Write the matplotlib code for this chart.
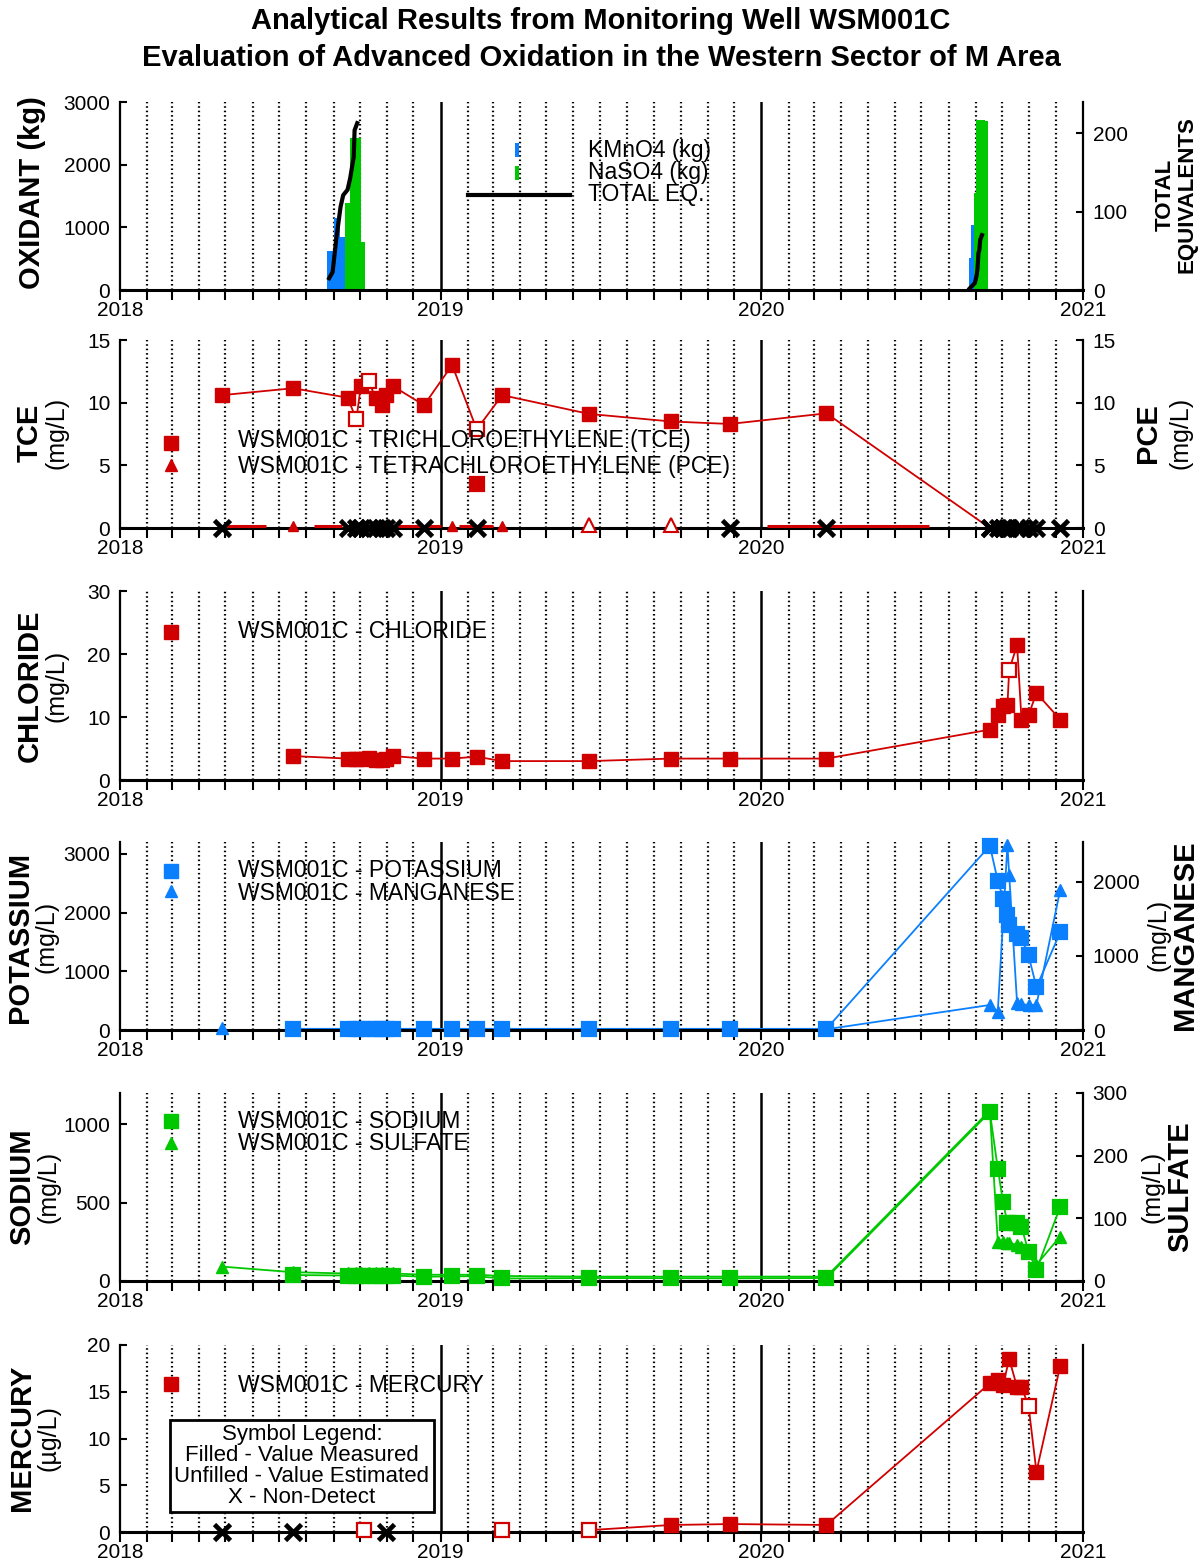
import numpy as np
import matplotlib
matplotlib.use('Agg')
import matplotlib.pyplot as plt
from matplotlib.patches import Rectangle
from matplotlib.lines import Line2D

plt.rcParams['font.family'] = ['Liberation Sans', 'DejaVu Sans']

RED = '#D00000'
BLUE = '#0A80FF'
GREEN = '#00C800'

# ---------------- DATA ----------------
# Panel 1: oxidant injections (step bars) and cumulative total equivalents
kmno4_dates = ['2018-08-25', '2018-09-02', '2018-09-08', '2018-09-14',
               '2020-08-24', '2020-08-27', '2020-08-30']
kmno4_kg = [620, 1150, 850, 0, 510, 1040, 0]
naso4_dates = ['2018-09-14', '2018-09-20', '2018-10-02', '2018-10-07',
               '2020-08-30', '2020-09-01', '2020-09-11', '2020-09-15']
naso4_kg = [1390, 2430, 770, 0, 1540, 2720, 2700, 0]
toteq1_dates = ['2018-08-27', '2018-08-31', '2018-09-04', '2018-09-09', '2018-09-12',
                '2018-09-17', '2018-09-20', '2018-09-24', '2018-09-25', '2018-09-28']
toteq1_vals = [15, 23, 64, 106, 121, 128, 143, 170, 204, 213]
toteq2_dates = ['2020-08-25', '2020-08-31', '2020-09-02', '2020-09-03', '2020-09-04',
                '2020-09-05', '2020-09-06', '2020-09-08']
toteq2_vals = [2, 9, 19, 28, 47, 51, 64, 70]

# Panel 2: TCE / PCE
tce_dates = ['2018-04-27', '2018-07-17', '2018-09-17', '2018-09-27', '2018-10-02', '2018-10-11',
             '2018-10-19', '2018-10-26', '2018-10-31', '2018-11-08', '2018-12-13', '2019-01-14',
             '2019-02-11', '2019-03-12', '2019-06-19', '2019-09-20', '2019-11-26', '2020-03-15',
             '2020-09-17']
tce_vals = [10.6, 11.15, 10.4, 8.67, 11.3, 11.75, 10.35, 9.8, 10.6, 11.3, 9.8, 13.0,
            7.87, 10.6, 9.1, 8.5, 8.3, 9.15, 0.0]
tce_flags = ['M', 'M', 'M', 'E', 'M', 'E', 'M', 'M', 'M', 'M', 'M', 'M',
             'E', 'M', 'M', 'M', 'M', 'M', 'ND']
tce_extra_dates = ['2019-02-11']
tce_extra_vals = [3.5]
nd_dates = ['2018-04-27', '2018-09-17', '2018-09-27', '2018-10-02', '2018-10-11', '2018-10-19',
            '2018-10-26', '2018-10-31', '2018-11-08', '2018-12-13', '2019-02-11', '2019-11-26',
            '2020-03-15', '2020-09-17', '2020-09-26', '2020-10-02', '2020-10-07', '2020-10-09',
            '2020-10-18', '2020-10-23', '2020-10-31', '2020-11-09', '2020-12-06']
pce_dates = ['2018-07-17', '2019-01-14', '2019-03-12', '2019-06-19', '2019-09-20']
pce_vals = [0.15, 0.15, 0.15, 0.25, 0.25]
pce_flags = ['M', 'M', 'M', 'E', 'E']
pce_trace_start = ['2018-05-02', '2018-08-10', '2018-11-13', '2019-01-22', '2020-01-07']
pce_trace_end = ['2018-06-16', '2018-09-11', '2019-01-01', '2019-03-01', '2020-07-10']

# Panel 3: chloride
cl_dates = ['2018-07-17', '2018-09-17', '2018-09-27', '2018-10-02', '2018-10-11', '2018-10-19',
            '2018-10-26', '2018-10-31', '2018-11-08', '2018-12-13', '2019-01-14', '2019-02-11',
            '2019-03-12', '2019-06-19', '2019-09-20', '2019-11-26', '2020-03-15', '2020-09-17',
            '2020-09-26', '2020-10-02', '2020-10-07', '2020-10-09', '2020-10-18', '2020-10-23',
            '2020-10-31', '2020-11-09', '2020-12-06']
cl_vals = [3.8, 3.4, 3.3, 3.4, 3.5, 3.2, 3.1, 3.4, 3.8, 3.4, 3.4, 3.7, 3.0, 3.0, 3.4, 3.4, 3.4,
           8.0, 10.3, 11.7, 11.9, 17.5, 21.4, 9.6, 10.3, 13.8, 9.6]
cl_flags = ['M'] * 21 + ['E'] + ['M'] * 5

# Panel 4: potassium / manganese
k_dates = ['2018-07-17', '2018-09-17', '2018-09-27', '2018-10-02', '2018-10-11', '2018-10-19',
           '2018-10-26', '2018-10-31', '2018-11-08', '2018-12-13', '2019-01-14', '2019-02-11',
           '2019-03-12', '2019-06-19', '2019-09-20', '2019-11-26', '2020-03-15', '2020-09-17',
           '2020-09-26', '2020-10-02', '2020-10-07', '2020-10-09', '2020-10-18', '2020-10-23',
           '2020-10-31', '2020-11-09', '2020-12-06']
k_vals = [20, 20, 20, 20, 20, 20, 20, 20, 20, 20, 20, 20, 20, 20, 20, 20, 20,
          3136, 2542, 2237, 1949, 1780, 1627, 1559, 1271, 729, 1661]
mn_dates = ['2018-04-27', '2020-03-15', '2020-09-17', '2020-09-26', '2020-10-07', '2020-10-09',
            '2020-10-18', '2020-10-23', '2020-10-31', '2020-11-09', '2020-12-06']
mn_vals = [30, 10, 338, 247, 2500, 2095, 360, 345, 340, 338, 1892]
mn_line_start = '2020-03-15'

# Panel 5: sodium / sulfate
na_dates = k_dates
na_vals = [38, 35, 35, 35, 35, 35, 35, 35, 35, 27, 30, 30, 16, 19, 18, 17, 19,
           1078, 718, 505, 369, 369, 369, 346, 187, 70, 473]
so4_dates = ['2018-04-27'] + k_dates
so4_vals = [23, 14, 12, 12, 12, 12, 12, 12, 12, 12, 10, 10, 10, 8, 7, 7, 7, 7,
            272, 63, 63, 60, 60, 58, 55, 50, 26, 71]

# Panel 6: mercury
hg_dates = ['2018-04-27', '2018-07-17', '2018-10-06', '2018-10-31', '2019-03-12', '2019-06-19',
            '2019-09-20', '2019-11-26', '2020-03-15', '2020-09-17', '2020-09-26', '2020-10-02',
            '2020-10-09', '2020-10-18', '2020-10-23', '2020-10-31', '2020-11-09', '2020-12-06']
hg_vals = [0, 0, 0.2, 0, 0.2, 0.2, 0.75, 0.85, 0.75, 15.9, 16.3, 15.7, 18.5, 15.5, 15.5,
           13.5, 6.45, 17.75]
hg_flags = ['ND', 'ND', 'E', 'ND', 'E', 'E', 'M', 'M', 'M', 'M', 'M', 'M', 'M', 'M', 'M',
            'E', 'M', 'M']
hg_line_start = '2019-06-19'

# ---------------- LAYOUT ----------------
W, H = 1203, 1562
fig = plt.figure(figsize=(W / 100, H / 100), dpi=100)


def fx(x):
    return x / W


def fy(y):
    return 1 - y / H


def D(lst):
    return np.array(lst, dtype='datetime64[D]')


X0, X1 = 120, 1083
panels = [(102, 290), (340, 528), (591, 780), (842, 1030), (1093, 1281), (1345, 1532)]
months = np.arange('2018-01', '2021-02', dtype='datetime64[M]').astype('datetime64[D]')
month_nums = [int(str(m)[5:7]) for m in months]
XMS, XMEW = 11, 3.4
TICKFS = 15


def make_ax(top, bot, ylim, yticks):
    ax = fig.add_axes([fx(X0), fy(bot), fx(X1) - fx(X0), (bot - top) / H])
    ax.set_xlim(np.datetime64('2018-01-01'), np.datetime64('2021-01-01'))
    ax.set_ylim(*ylim)
    ax.set_yticks(yticks)
    ax.spines['top'].set_visible(False)
    ax.spines['left'].set_linewidth(1.6)
    ax.spines['right'].set_linewidth(1.6)
    ax.spines['bottom'].set_linewidth(2.2)
    ax.set_xticks(months)
    ax.set_xticklabels([str(m)[:4] if mn == 1 else '' for m, mn in zip(months, month_nums)])
    ax.tick_params(axis='x', direction='out', length=7, width=1.5, labelsize=TICKFS, pad=1)
    ax.tick_params(axis='y', direction='in', length=5, width=1.5, labelsize=TICKFS, pad=7)
    for m, mn in zip(months, month_nums):
        if mn != 1:
            ax.axvline(m, color='black', ls=(0, (0.7, 1.3)), lw=1.6, zorder=0.5)
    for yr in ['2019-01-01', '2020-01-01']:
        ax.axvline(np.datetime64(yr), color='black', lw=1.8, zorder=0.6)
    return ax


def make_twin(ax, ylim, yticks):
    tw = ax.twinx()
    tw.set_ylim(*ylim)
    tw.set_yticks(yticks)
    for s in tw.spines.values():
        s.set_visible(False)
    tw.tick_params(axis='y', direction='in', length=5, width=1.5, labelsize=TICKFS, pad=7)
    return tw


def line(ax, dates, vals, color):
    ax.plot(D(dates), vals, color=color, lw=1.3, zorder=2.2)


def markers(ax, dates, vals, color, marker='s', ms=10, filled=True):
    ax.plot(D(dates), vals, ls='none', marker=marker, ms=ms, mfc=color if filled else 'white',
            mec=color, mew=1.6, zorder=4, clip_on=False)


def flagged(ax, dates, vals, flags, color, marker='s', ms=10):
    d = D(dates)
    v = np.array(vals, dtype=float)
    f = np.array(flags)
    m = f == 'M'
    ax.plot(d[m], v[m], ls='none', marker=marker, ms=ms, mfc=color, mec=color, zorder=4,
            clip_on=False)
    e = f == 'E'
    ax.plot(d[e], v[e], ls='none', marker=marker, ms=ms, mfc='white', mec=color, mew=1.6,
            zorder=4, clip_on=False)
    n = f == 'ND'
    ax.plot(d[n], v[n], ls='none', marker='x', ms=XMS, mec='black', mew=XMEW, zorder=5,
            clip_on=False)


def legend_entry(x, y, marker, color, ms=10):
    fig.add_artist(Line2D([fx(x)], [fy(y)], transform=fig.transFigure, marker=marker, ms=ms,
                          mfc=color, mec=color, ls='none'))


def ftext(x, y, s, **kw):
    fig.text(fx(x), fy(y), s, **kw)


LEGFS = 16.5

# Title
ftext(601, 21, 'Analytical Results from Monitoring Well WSM001C', ha='center', va='center',
      fontsize=21, fontweight='bold')
ftext(601, 58, 'Evaluation of Advanced Oxidation in the Western Sector of M Area', ha='center',
      va='center', fontsize=21, fontweight='bold')

# ---- Panel 1 ----
ax1 = make_ax(*panels[0], (0, 3000), [0, 1000, 2000, 3000])
ax1.fill_between(D(kmno4_dates), kmno4_kg, step='post', color=BLUE, lw=0, zorder=2)
ax1.fill_between(D(naso4_dates), naso4_kg, step='post', color=GREEN, lw=0, zorder=2)
tw1 = make_twin(ax1, (0, 240), [0, 100, 200])
tw1.plot(D(toteq1_dates), toteq1_vals, color='black', lw=3, zorder=3)
tw1.plot(D(toteq2_dates), toteq2_vals, color='black', lw=3, zorder=3)
fig.add_artist(Rectangle((fx(515), fy(157)), 4 / W, 14 / H, transform=fig.transFigure,
                         color=BLUE, lw=0))
fig.add_artist(Rectangle((fx(515), fy(180)), 4 / W, 14 / H, transform=fig.transFigure,
                         color=GREEN, lw=0))
fig.add_artist(Line2D([fx(468), fx(570)], [fy(195), fy(195)], transform=fig.transFigure,
                      color='black', lw=3))
ftext(588, 151, 'KMnO4 (kg)', fontsize=LEGFS, va='center')
ftext(588, 173, 'NaSO4 (kg)', fontsize=LEGFS, va='center')
ftext(588, 195, 'TOTAL EQ.', fontsize=LEGFS, va='center')
ftext(32, 193, 'OXIDANT (kg)', rotation=90, ha='center', va='center', fontsize=21,
      fontweight='bold')
ftext(1165, 195, 'TOTAL', rotation=90, ha='center', va='center', fontsize=16, fontweight='bold')
ftext(1187, 195, 'EQUIVALENTS', rotation=90, ha='center', va='center', fontsize=16,
      fontweight='bold')

# ---- Panel 2 ----
ax2 = make_ax(*panels[1], (0, 15), [0, 5, 10, 15])
tw2 = make_twin(ax2, (0, 15), [0, 5, 10, 15])
line(ax2, tce_dates, tce_vals, RED)
flagged(ax2, tce_dates, tce_vals, tce_flags, RED)
markers(ax2, tce_extra_dates, tce_extra_vals, RED)
ax2.hlines([0.12] * len(pce_trace_start), D(pce_trace_start), D(pce_trace_end), color=RED,
           lw=2.2, zorder=3)
pd_ = D(pce_dates)
pv = np.array(pce_vals)
pf = np.array(pce_flags)
ax2.plot(pd_[pf == 'M'], pv[pf == 'M'], ls='none', marker='^', ms=7, color=RED, zorder=4,
         clip_on=False)
ax2.plot(pd_[pf == 'E'], pv[pf == 'E'], ls='none', marker='^', ms=10, mfc='white', mec=RED,
         mew=1.5, zorder=4, clip_on=False)
ax2.plot(D(nd_dates), [0] * len(nd_dates), ls='none', marker='x', ms=XMS, mec='black', mew=XMEW,
         zorder=5, clip_on=False)
legend_entry(171, 443, 's', RED)
legend_entry(171, 465, '^', RED, ms=8)
ftext(238, 441, 'WSM001C - TRICHLOROETHYLENE (TCE)', fontsize=LEGFS, va='center')
ftext(238, 466, 'WSM001C - TETRACHLOROETHYLENE (PCE)', fontsize=LEGFS, va='center')
ftext(30, 433, 'TCE', rotation=90, ha='center', va='center', fontsize=21, fontweight='bold')
ftext(56, 433, '(mg/L)', rotation=90, ha='center', va='center', fontsize=18)
ftext(1148, 433, 'PCE', rotation=90, ha='center', va='center', fontsize=21, fontweight='bold')
ftext(1181, 433, '(mg/L)', rotation=90, ha='center', va='center', fontsize=18)

# ---- Panel 3 ----
ax3 = make_ax(*panels[2], (0, 30), [0, 10, 20, 30])
line(ax3, cl_dates, cl_vals, RED)
flagged(ax3, cl_dates, cl_vals, cl_flags, RED)
legend_entry(171, 632, 's', RED)
ftext(238, 632, 'WSM001C - CHLORIDE', fontsize=LEGFS, va='center')
ftext(30, 686, 'CHLORIDE', rotation=90, ha='center', va='center', fontsize=21, fontweight='bold')
ftext(56, 686, '(mg/L)', rotation=90, ha='center', va='center', fontsize=18)

# ---- Panel 4 ----
ax4 = make_ax(*panels[3], (0, 3200), [0, 1000, 2000, 3000])
tw4 = make_twin(ax4, (0, 2540), [0, 1000, 2000])
line(ax4, k_dates, k_vals, BLUE)
markers(ax4, k_dates, k_vals, BLUE)
mnd = D(mn_dates)
mnv = np.array(mn_vals)
msel = mnd >= np.datetime64(mn_line_start)
tw4.plot(mnd[msel], mnv[msel], color=BLUE, lw=1.3, zorder=2.2)
tw4.plot(mnd, mnv, ls='none', marker='^', ms=9, color=BLUE, zorder=4, clip_on=False)
legend_entry(171, 871, 's', BLUE)
legend_entry(171, 891, '^', BLUE, ms=8)
ftext(238, 871, 'WSM001C - POTASSIUM', fontsize=LEGFS, va='center')
ftext(238, 893, 'WSM001C - MANGANESE', fontsize=LEGFS, va='center')
ftext(20, 937, 'POTASSIUM', rotation=90, ha='center', va='center', fontsize=21, fontweight='bold')
ftext(46, 937, '(mg/L)', rotation=90, ha='center', va='center', fontsize=18)
ftext(1185, 935, 'MANGANESE', rotation=90, ha='center', va='center', fontsize=21,
      fontweight='bold')
ftext(1158, 935, '(mg/L)', rotation=90, ha='center', va='center', fontsize=18)

# ---- Panel 5 ----
ax5 = make_ax(*panels[4], (0, 1200), [0, 500, 1000])
tw5 = make_twin(ax5, (0, 300), [0, 100, 200, 300])
line(ax5, na_dates, na_vals, GREEN)
markers(ax5, na_dates, na_vals, GREEN)
tw5.plot(D(so4_dates), so4_vals, color=GREEN, lw=1.3, zorder=2.2)
tw5.plot(D(so4_dates), so4_vals, ls='none', marker='^', ms=9, color=GREEN, zorder=4,
         clip_on=False)
legend_entry(171, 1121, 's', GREEN)
legend_entry(171, 1143, '^', GREEN, ms=8)
ftext(238, 1122, 'WSM001C - SODIUM', fontsize=LEGFS, va='center')
ftext(238, 1144, 'WSM001C - SULFATE', fontsize=LEGFS, va='center')
ftext(22, 1187, 'SODIUM', rotation=90, ha='center', va='center', fontsize=21, fontweight='bold')
ftext(48, 1187, '(mg/L)', rotation=90, ha='center', va='center', fontsize=18)
ftext(1180, 1187, 'SULFATE', rotation=90, ha='center', va='center', fontsize=21,
      fontweight='bold')
ftext(1152, 1187, '(mg/L)', rotation=90, ha='center', va='center', fontsize=18)

# ---- Panel 6 ----
ax6 = make_ax(*panels[5], (0, 20), [0, 5, 10, 15, 20])
hd = D(hg_dates)
hv = np.array(hg_vals)
sel = hd >= np.datetime64(hg_line_start)
ax6.plot(hd[sel], hv[sel], color=RED, lw=1.3, zorder=2.2)
flagged(ax6, hg_dates, hg_vals, hg_flags, RED)
legend_entry(171, 1384, 's', RED)
ftext(238, 1385, 'WSM001C - MERCURY', fontsize=LEGFS, va='center')
ftext(22, 1438, 'MERCURY', rotation=90, ha='center', va='center', fontsize=21, fontweight='bold')
ftext(48, 1438, '(µg/L)', rotation=90, ha='center', va='center', fontsize=18)
fig.text(fx(302), fy(1466),
         'Symbol Legend:\nFilled - Value Measured\nUnfilled - Value Estimated\nX - Non-Detect',
         ha='center', va='center', fontsize=16, linespacing=1.0, zorder=10,
         bbox=dict(boxstyle='square,pad=0.2', fc='white', ec='black', lw=2))

fig.savefig('out.png', dpi=100)
